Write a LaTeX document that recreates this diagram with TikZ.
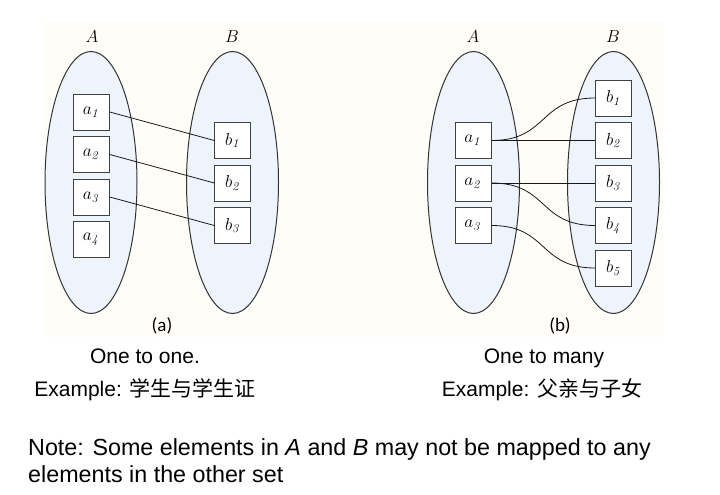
\documentclass[tikz,border=0pt]{standalone}
\usepackage[no-math]{fontspec}
\setmainfont{Liberation Sans}
\newfontfamily\cjk{Noto Sans CJK SC}
\newfontfamily\tagfont{Carlito}
\usetikzlibrary{positioning,shapes.geometric}

\definecolor{setblue}{RGB}{238,244,252}
\definecolor{panelbg}{RGB}{255,253,248}

\begin{document}
\begin{tikzpicture}[x=1pt, y=-1pt,
    set/.style={ellipse, draw=black!80, line width=1pt, fill=setblue, minimum width=92pt, minimum height=262pt, inner sep=0pt},
    elem/.style={rectangle, draw=black!75, line width=1pt, fill=white, minimum size=36pt, inner sep=0pt, font=\fontsize{16.5}{16.5}\selectfont},
    link/.style={line width=0.8pt, draw=black!90},
    setname/.style={font=\fontsize{19}{19}\selectfont},
    tag/.style={font=\tagfont\fontsize{19}{19}\selectfont},
    caption/.style={font=\fontsize{21}{24}\selectfont}
]
\useasboundingbox (0,0) rectangle (720,495);
\fill[panelbg] (45,22) rectangle (663,337);

% (a) one to one
\node[set] (oneA) at (91,182.5) {};
\node[set] (oneB) at (232.5,182.5) {};
\node[setname] (oneAname) at (92,37) {$A$};
\node[setname] (oneBname) at (232,37) {$B$};
\node[elem] (oa1) at (91.3,112) {$a_{\mathit{1}}$};
\node[elem] (oa2) at (91.3,154.5) {$a_{\mathit{2}}$};
\node[elem] (oa3) at (91.3,197) {$a_{\mathit{3}}$};
\node[elem] (oa4) at (91.3,239.5) {$a_{\mathit{4}}$};
\node[elem] (ob1) at (232.8,140.5) {$b_{\mathit{1}}$};
\node[elem] (ob2) at (232.8,183) {$b_{\mathit{2}}$};
\node[elem] (ob3) at (232.8,225.5) {$b_{\mathit{3}}$};
\draw[link] (oa1.east) -- (ob1.west);
\draw[link] (oa2.east) -- (ob2.west);
\draw[link] (oa3.east) -- (ob3.west);
\node[tag] (onetag) at (162,326) {(a)};

% (b) one to many
\node[set] (manyA) at (473.5,182.5) {};
\node[set] (manyB) at (613.5,182.5) {};
\node[setname] (manyAname) at (473,37) {$A$};
\node[setname] (manyBname) at (613,37) {$B$};
\node[elem] (ma1) at (473,140.5) {$a_{\mathit{1}}$};
\node[elem] (ma2) at (473,183) {$a_{\mathit{2}}$};
\node[elem] (ma3) at (473,225.5) {$a_{\mathit{3}}$};
\node[elem] (mb1) at (613.7,98) {$b_{\mathit{1}}$};
\node[elem] (mb2) at (613.7,140.5) {$b_{\mathit{2}}$};
\node[elem] (mb3) at (613.7,183) {$b_{\mathit{3}}$};
\node[elem] (mb4) at (613.7,225.5) {$b_{\mathit{4}}$};
\node[elem] (mb5) at (613.7,268) {$b_{\mathit{5}}$};
\draw[link] (ma1.east) to[out=0, in=180, looseness=1.3] (mb1.west);
\draw[link] (ma1.east) -- (mb2.west);
\draw[link] (ma2.east) -- (mb3.west);
\draw[link] (ma2.east) to[out=0, in=180, looseness=1.3] (mb4.west);
\draw[link] (ma3.east) to[out=0, in=180, looseness=1.3] (mb5.west);
\node[tag] (manytag) at (560,326) {(b)};

% captions
\node[caption, anchor=base] (onetitle) at (145,363) {One to one.};
\node[caption, anchor=base] (oneex) at (145,396) {Example: {\cjk 学生与学生证}};
\node[caption, anchor=base] (manytitle) at (544,363) {One to many};
\node[caption, anchor=base] (manyex) at (542,396) {Example: {\cjk 父亲与子女}};
\node[anchor=base west, align=left, inner sep=0pt, font=\fontsize{23.3}{27}\selectfont] (note) at (28,482)
  {Note: Some elements in \textit{A} and \textit{B} may not be mapped to any\\elements in the other set};
\end{tikzpicture}
\end{document}
